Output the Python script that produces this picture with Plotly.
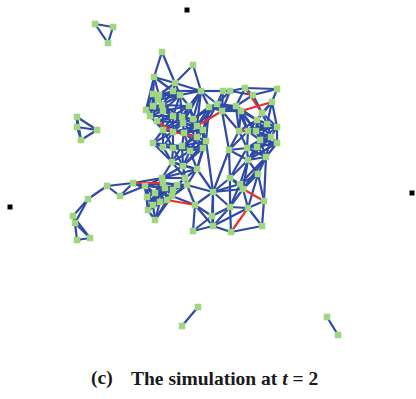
import plotly.graph_objects as go

# Node positions (pixel-like layout coordinates)
node_x = [95,113,108, 77,77,97,81, 198,182, 327,338,
          107,120,88,73,75,77,90,
          162,193,154,175,173,201,223,230,245,253,277,272,262,
          153,159,180,146,158,162,153,150,163,189,173,193,182,
          217,222,236,241,209,157,183,197,163,173,184,197,203,
          239,248,256,267,271,277,257,260,277,247,229,206,257,
          248,266,258,230,240,243,213,230,248,264,212,213,231,262,193,195,
          153,163,173,182,190,203,172,183,197,162,185,133,145,147,155,
          165,177,163,187,173,172,160,167,153,148,155]
node_y = [24,27,43, 117,127,130,140, 307,326, 317,335,
          186,196,199,216,223,240,238,
          52,65,77,83,91,91,91,91,88,95,89,102,113,
          94,95,95,110,100,105,106,116,111,106,116,119,117,
          104,111,106,111,107,121,123,126,130,132,133,137,130,
          131,131,131,124,137,127,120,140,143,148,150,141,147,
          160,157,174,178,184,189,192,207,208,201,216,226,232,226,231,205,
          143,147,148,146,151,148,162,166,169,178,178,183,186,197,193,
          188,185,183,185,190,196,202,200,205,210,220]

# Edge groups: every pair inside a group is linked
blue_groups = [
    [0,1,2],[3,4,5,6],[7,8],[9,10],
    [13,11],[13,14],[13,15],[14,15],[15,16,17],[14,17],[11,12,97],[12,98],
    [18,20],[18,21],[19,21],[19,23],
    [20,21],[20,31],[20,32],[20,22],[20,34],
    [21,22],[21,23],[21,33],[21,32],
    [23,24],[23,33],[23,40],[23,44],[23,48],[23,22],
    [24,25],[25,26],[26,27],[27,28],[26,28],[25,27],
    [31,32,35,36,37,34],[34,37,38,39,36],[22,32,33,35,36],
    [33,40,43,41,39,36],[38,49,39,41,52],[41,43,50,53,52,49],
    [40,42,43,50,51,23],[42,48,44,51,56],[50,51,53,54,55,56],
    [52,53,86,87,88],[54,55,56,89,90,91,68],[86,87,88,89,92],
    [88,89,90,92,93],[90,91,93,94,68],[92,93,95,96,94],
    [95,97,98,100,101,103],[98,99,100,101,107,109,110],
    [101,102,103,104,105,106,108,100],[96,102,104,105],
    [107,108,109,110,111,106],[104,85],[106,85],[94,104],
    [68,76],[94,76],[104,76],[85,76],
    [44,45,46,47,48],[24,25,44,45],[23,24,44],[45,46,47,57],[45,67],[48,68],
    [27,30],[29,30],[28,29],[26,46],[27,46],
    [30,63,60,29,62],[57,58,59,63,46,47],[58,59,60,61,62,63,64],
    [61,62,65,64],[57,66,67,58],[64,66,69,70,71,65,61],[66,67,70,73],
    [70,71,72,74,75],[67,73,76],[67,57],[73,74,75,76,77],
    [72,78,79],[75,78],[76,77,80,81],[77,78,82,81],[78,79,83],
    [80,81,84,85],[82,83],[71,79],[72,79],
]
red_edges = [[26,30],[47,29],[51,45],[49,53],[53,55],[57,58],
             [97,103],[108,85],[75,79],[78,82]]

# Reference markers
marker_x = [187, 10, 412]
marker_y = [10, 207, 193]

def segs(pairs):
    xs, ys = [], []
    for a, b in pairs:
        xs += [node_x[a], node_x[b], None]
        ys += [node_y[a], node_y[b], None]
    return xs, ys

red_keys = {tuple(sorted(r)) for r in red_edges}
blue_pairs = []
seen = set()
for g in blue_groups:
    for i in range(len(g)):
        for j in range(i + 1, len(g)):
            k = tuple(sorted((g[i], g[j])))
            if k not in seen and k not in red_keys:
                seen.add(k)
                blue_pairs.append(k)

bx, by = segs(blue_pairs)
rx, ry = segs(red_edges)

fig = go.Figure()
fig.add_trace(go.Scatter(x=bx, y=by, mode="lines", cliponaxis=False,
                         line=dict(color="#2e49a6", width=2.2), hoverinfo="skip"))
fig.add_trace(go.Scatter(x=rx, y=ry, mode="lines", cliponaxis=False,
                         line=dict(color="#e8302c", width=2.2), hoverinfo="skip"))
fig.add_trace(go.Scatter(x=node_x, y=node_y, mode="markers", cliponaxis=False,
                         marker=dict(symbol="square", size=6.5, color="#9fd67f",
                                     line=dict(width=0))))
fig.add_trace(go.Scatter(x=marker_x, y=marker_y, mode="markers", cliponaxis=False,
                         marker=dict(symbol="square", size=5, color="black")))

font = dict(family="Liberation Serif, Times New Roman, serif", size=19.5, color="#1a1a1a")
fig.add_annotation(x=102, y=378, xref="x", yref="y", showarrow=False,
                   text="<b>(c)</b>", font=font)
fig.add_annotation(x=224.5, y=378, xref="x", yref="y", showarrow=False,
                   text="<b>The simulation at <i>t</i> = 2</b>", font=font)

fig.update_layout(width=416, height=399, margin=dict(l=0, r=0, t=0, b=0),
                  showlegend=False, plot_bgcolor="white", paper_bgcolor="white",
                  xaxis=dict(range=[0, 416], visible=False, fixedrange=True),
                  yaxis=dict(range=[399, 0], visible=False, fixedrange=True))
fig.write_html("out.html", config={"displayModeBar": False},
               post_script="document.body.style.margin='0';document.body.style.overflow='hidden';")
